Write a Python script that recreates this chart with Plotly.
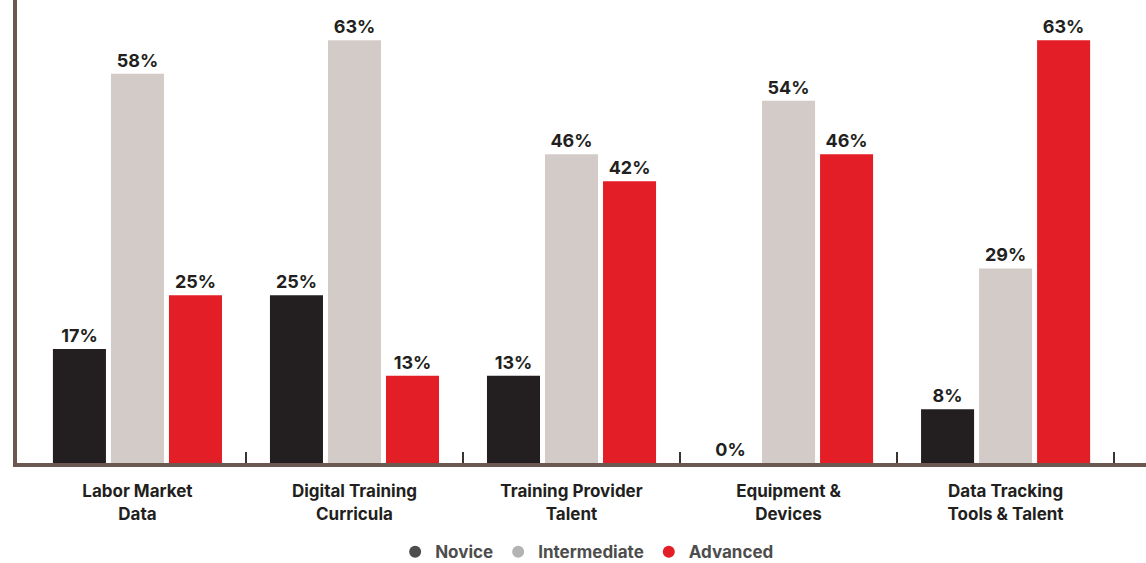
import plotly.graph_objects as go

categories = ["Labor Market<br>Data", "Digital Training<br>Curricula", "Training Provider<br>Talent",
              "Equipment &<br>Devices", "Data Tracking<br>Tools & Talent"]
novice = [17, 25, 13, 0, 8]
intermediate = [58, 63, 46, 54, 29]
advanced = [25, 13, 42, 46, 63]

series = [
    ("Novice", novice, "#231f20", "#4d4d4d"),
    ("Intermediate", intermediate, "#d3cbc8", "#b3b3b3"),
    ("Advanced", advanced, "#e31e26", "#e31e26"),
]

FONT = "Inter"
xpos = list(range(len(categories)))

fig = go.Figure()
for name, vals, color, _ in series:
    fig.add_trace(go.Bar(
        x=xpos, y=vals, name=name, marker_color=color, marker_line_width=0,
        text=[f"{v}%" for v in vals], textposition="outside", cliponaxis=False,
        textfont=dict(family=FONT, size=18, color="#231f20", weight="bold"),
        showlegend=False, hoverinfo="skip",
    ))

# round legend swatches
for name, _, _, lcolor in series:
    fig.add_trace(go.Scatter(
        x=[None], y=[None], mode="markers", name=name,
        marker=dict(symbol="circle", size=14, color=lcolor),
    ))

fig.update_layout(
    width=1146, height=563,
    margin=dict(l=17, r=0, t=0, b=100),
    paper_bgcolor="white", plot_bgcolor="white",
    barmode="group", bargap=0.198, bargroupgap=0.086,
    legend=dict(orientation="h", x=0.505, xanchor="center",
                yref="container", y=0.019, yanchor="middle",
                font=dict(family=FONT, size=17, color="#4d4d4d", weight="bold"),
                itemsizing="constant", itemwidth=30, traceorder="normal",
                tracegroupgap=0),
    font=dict(family=FONT),
)

fig.update_xaxes(
    range=[-0.555, 4.647], tickvals=xpos, ticktext=categories,
    ticks="", showgrid=False, zeroline=False,
    showline=True, linecolor="#6b5850", linewidth=4,
    tickfont=dict(family=FONT, size=17, color="#231f20", weight="bold"),
    ticklabelstandoff=10,
    minor=dict(tickvals=[0.5, 1.5, 2.5, 3.5, 4.5], ticks="inside", ticklen=11,
               tickwidth=2, tickcolor="#3a3330", showgrid=False),
)
fig.update_yaxes(
    range=[0, 69], showticklabels=False, ticks="", showgrid=False, zeroline=False,
    showline=True, linecolor="#6b5850", linewidth=4,
)

fig.write_html("out.html")
